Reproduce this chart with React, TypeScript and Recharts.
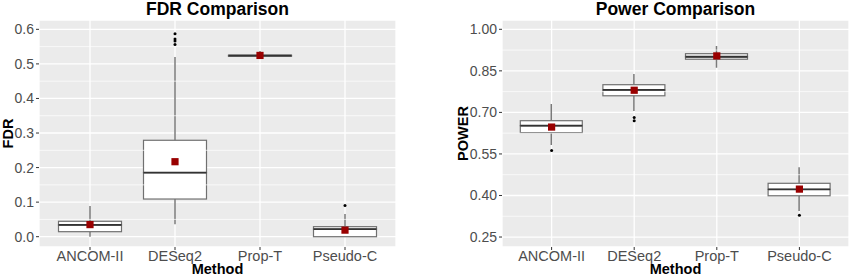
import React from 'react';
import {
  ComposedChart,
  Bar,
  Scatter,
  XAxis,
  YAxis,
  CartesianGrid,
  ReferenceLine,
  Label,
} from 'recharts';

// ---------- data ----------
const methods = ['ANCOM-II', 'DESeq2', 'Prop-T', 'Pseudo-C'];

// FDR comparison
const fdrWhiskerLow = [0.0, 0.036, 0.52, 0.0];
const fdrQ1 = [0.0145, 0.109, 0.522, 0.0];
const fdrMedian = [0.034, 0.1855, 0.5237, 0.022];
const fdrQ3 = [0.0446, 0.279, 0.5255, 0.029];
const fdrWhiskerHigh = [0.089, 0.52, 0.537, 0.066];
const fdrMean = [0.035, 0.217, 0.5245, 0.019];
const fdrOutliers = [[], [0.556, 0.566, 0.572, 0.5875], [], [0.09]];
const fdrTicks = [0, 0.1, 0.2, 0.3, 0.4, 0.5, 0.6];
const fdrMinorTicks = [0.05, 0.15, 0.25, 0.35, 0.45, 0.55];
const fdrDomain = [-0.0298, 0.627];

// Power comparison
const pwWhiskerLow = [0.582, 0.705, 0.861, 0.344];
const pwQ1 = [0.627, 0.76, 0.892, 0.399];
const pwMedian = [0.652, 0.781, 0.901, 0.422];
const pwQ3 = [0.67, 0.8, 0.912, 0.444];
const pwWhiskerHigh = [0.73, 0.839, 0.94, 0.502];
const pwMean = [0.647, 0.78, 0.904, 0.423];
const pwOutliers = [[0.562], [0.67, 0.682], [], [0.329]];
const pwTicks = [0.25, 0.4, 0.55, 0.7, 0.85, 1.0];
const pwMinorTicks = [0.325, 0.475, 0.625, 0.775, 0.925];
const pwDomain = [0.214, 1.0336];

// ---------- helpers ----------
type Stats = {
  wl: number[];
  q1: number[];
  med: number[];
  q3: number[];
  wh: number[];
  mean: number[];
  out: number[][];
};

function buildRows(s: Stats) {
  return methods.map((m, i) => {
    const row: any = {
      method: m,
      base: s.wl[i],
      lw: s.q1[i] - s.wl[i],
      lb: s.med[i] - s.q1[i],
      ub: s.q3[i] - s.med[i],
      uw: s.wh[i] - s.q3[i],
      mean: s.mean[i],
    };
    for (let k = 0; k < 4; k++) row['o' + k] = s.out[i][k] ?? null;
    return row;
  });
}

const fdrRows = buildRows({
  wl: fdrWhiskerLow, q1: fdrQ1, med: fdrMedian, q3: fdrQ3, wh: fdrWhiskerHigh, mean: fdrMean, out: fdrOutliers,
});
const pwRows = buildRows({
  wl: pwWhiskerLow, q1: pwQ1, med: pwMedian, q3: pwQ3, wh: pwWhiskerHigh, mean: pwMean, out: pwOutliers,
});

const BOX_STROKE = '#707070';
const WHISKER = '#7a7a7a';
const MEDIAN = '#333333';
const MEAN = '#990000';
const FONT = '"Liberation Sans", Arial, sans-serif';

const WhiskerShape = (p: any) => {
  if (!p || !(p.height > 0)) return <g />;
  const cx = p.x + p.width / 2;
  return <line x1={cx} x2={cx} y1={p.y} y2={p.y + p.height} stroke={WHISKER} strokeWidth={1.5} />;
};

const LowerBoxShape = (p: any) => {
  if (!p || p.height == null) return <g />;
  return (
    <rect x={p.x} y={p.y} width={p.width} height={Math.max(p.height, 0)} fill="#ffffff" stroke={BOX_STROKE} strokeWidth={1.2} />
  );
};

const UpperBoxShape = (p: any) => {
  if (!p || p.height == null) return <g />;
  const h = Math.max(p.height, 0);
  return (
    <g>
      <rect x={p.x} y={p.y} width={p.width} height={h} fill="#ffffff" stroke={BOX_STROKE} strokeWidth={1.2} />
      <line x1={p.x} x2={p.x + p.width} y1={p.y + h} y2={p.y + h} stroke={MEDIAN} strokeWidth={1.8} />
    </g>
  );
};

const MeanShape = (p: any) => {
  if (p == null || p.cy == null || isNaN(p.cy)) return <g />;
  return <rect x={p.cx - 3.6} y={p.cy - 3.6} width={7.2} height={7.2} fill={MEAN} />;
};

const OutlierShape = (p: any) => {
  if (p == null || p.cy == null || isNaN(p.cy) || p.payload == null) return <g />;
  return <circle cx={p.cx} cy={p.cy} r={1.5} fill="#000000" />;
};

type PanelProps = {
  rows: any[];
  width: number;
  yAxisWidth: number;
  rightMargin: number;
  domain: number[];
  ticks: number[];
  minorTicks: number[];
  digits: number;
  barSize: number;
  padX: number;
  yTitle: string;
  yTitleX: number;
};

function Panel(pp: PanelProps) {
  const plotBottom = 247;
  const plotTop = 20;
  const cy = (plotTop + plotBottom) / 2;
  const cx = pp.yAxisWidth + (pp.width - pp.yAxisWidth - pp.rightMargin) / 2;
  return (
    <ComposedChart
      width={pp.width}
      height={278}
      data={pp.rows}
      margin={{ top: 20, right: pp.rightMargin, bottom: 0, left: 0 }}
      barSize={pp.barSize}
    >
      <CartesianGrid fill="#EBEBEB" stroke="#ffffff" strokeWidth={1.3} />
      {pp.minorTicks.map((t) => (
        <ReferenceLine key={t} y={t} stroke="#ffffff" strokeWidth={0.7} />
      ))}
      <XAxis
        dataKey="method"
        type="category"
        height={31}
        padding={{ left: pp.padX, right: pp.padX }}
        axisLine={false}
        tickLine={{ stroke: '#333333' }}
        tickSize={3}
        tickMargin={1}
        interval={0}
        tick={{ fill: '#4D4D4D', fontSize: 14.5 }}
      >
        <Label
          content={() => (
            <text x={cx} y={274} textAnchor="middle" fontWeight="bold" fontSize={14.5} fill="#000000">
              Method
            </text>
          )}
        />
      </XAxis>
      <YAxis
        type="number"
        width={pp.yAxisWidth}
        domain={pp.domain}
        allowDataOverflow
        ticks={pp.ticks}
        interval={0}
        axisLine={false}
        tickLine={{ stroke: '#333333' }}
        tickSize={3}
        tickMargin={2}
        tick={{ fill: '#4D4D4D', fontSize: 14 }}
        tickFormatter={(v: number) => v.toFixed(pp.digits)}
      >
        <Label
          content={() => (
            <text
              x={pp.yTitleX}
              y={cy}
              transform={`rotate(-90 ${pp.yTitleX} ${cy})`}
              textAnchor="middle"
              fontWeight="bold"
              fontSize={14.5}
              fill="#000000"
            >
              {pp.yTitle}
            </text>
          )}
        />
      </YAxis>
      <Bar dataKey="base" stackId="box" fill="none" isAnimationActive={false} />
      <Bar dataKey="lw" stackId="box" shape={WhiskerShape} isAnimationActive={false} />
      <Bar dataKey="lb" stackId="box" shape={LowerBoxShape} isAnimationActive={false} />
      <Bar dataKey="ub" stackId="box" shape={UpperBoxShape} isAnimationActive={false} />
      <Bar dataKey="uw" stackId="box" shape={WhiskerShape} isAnimationActive={false} />
      {[0, 1, 2, 3].map((k) => (
        <Scatter key={k} dataKey={'o' + k} shape={OutlierShape} isAnimationActive={false} />
      ))}
      <Scatter dataKey="mean" shape={MeanShape} isAnimationActive={false} />
    </ComposedChart>
  );
}

const titleStyle: React.CSSProperties = {
  position: 'absolute',
  top: 1,
  fontFamily: FONT,
  fontWeight: 'bold',
  fontSize: 17.5,
  lineHeight: '17.5px',
  textAlign: 'center',
  color: '#000',
  whiteSpace: 'nowrap',
};

export default function App() {
  return (
    <div
      style={{
        position: 'absolute',
        left: 0,
        top: 0,
        width: 851,
        height: 278,
        background: '#ffffff',
        fontFamily: FONT,
        overflow: 'hidden',
      }}
    >
      <div style={{ position: 'absolute', left: 0, top: 0 }}>
        <Panel
          rows={fdrRows}
          width={425}
          yAxisWidth={39}
          rightMargin={29}
          domain={fdrDomain}
          ticks={fdrTicks}
          minorTicks={fdrMinorTicks}
          digits={1}
          barSize={63}
          padX={8.5}
          yTitle="FDR"
          yTitleX={13}
        />
      </div>
      <div style={{ position: 'absolute', left: 425, top: 0 }}>
        <Panel
          rows={pwRows}
          width={426}
          yAxisWidth={77}
          rightMargin={2}
          domain={pwDomain}
          ticks={pwTicks}
          minorTicks={pwMinorTicks}
          digits={2}
          barSize={62}
          padX={8.3}
          yTitle="POWER"
          yTitleX={42.5}
        />
      </div>
      <div style={{ ...titleStyle, left: 39, width: 357 }}>FDR Comparison</div>
      <div style={{ ...titleStyle, left: 502, width: 347 }}>Power Comparison</div>
    </div>
  );
}
